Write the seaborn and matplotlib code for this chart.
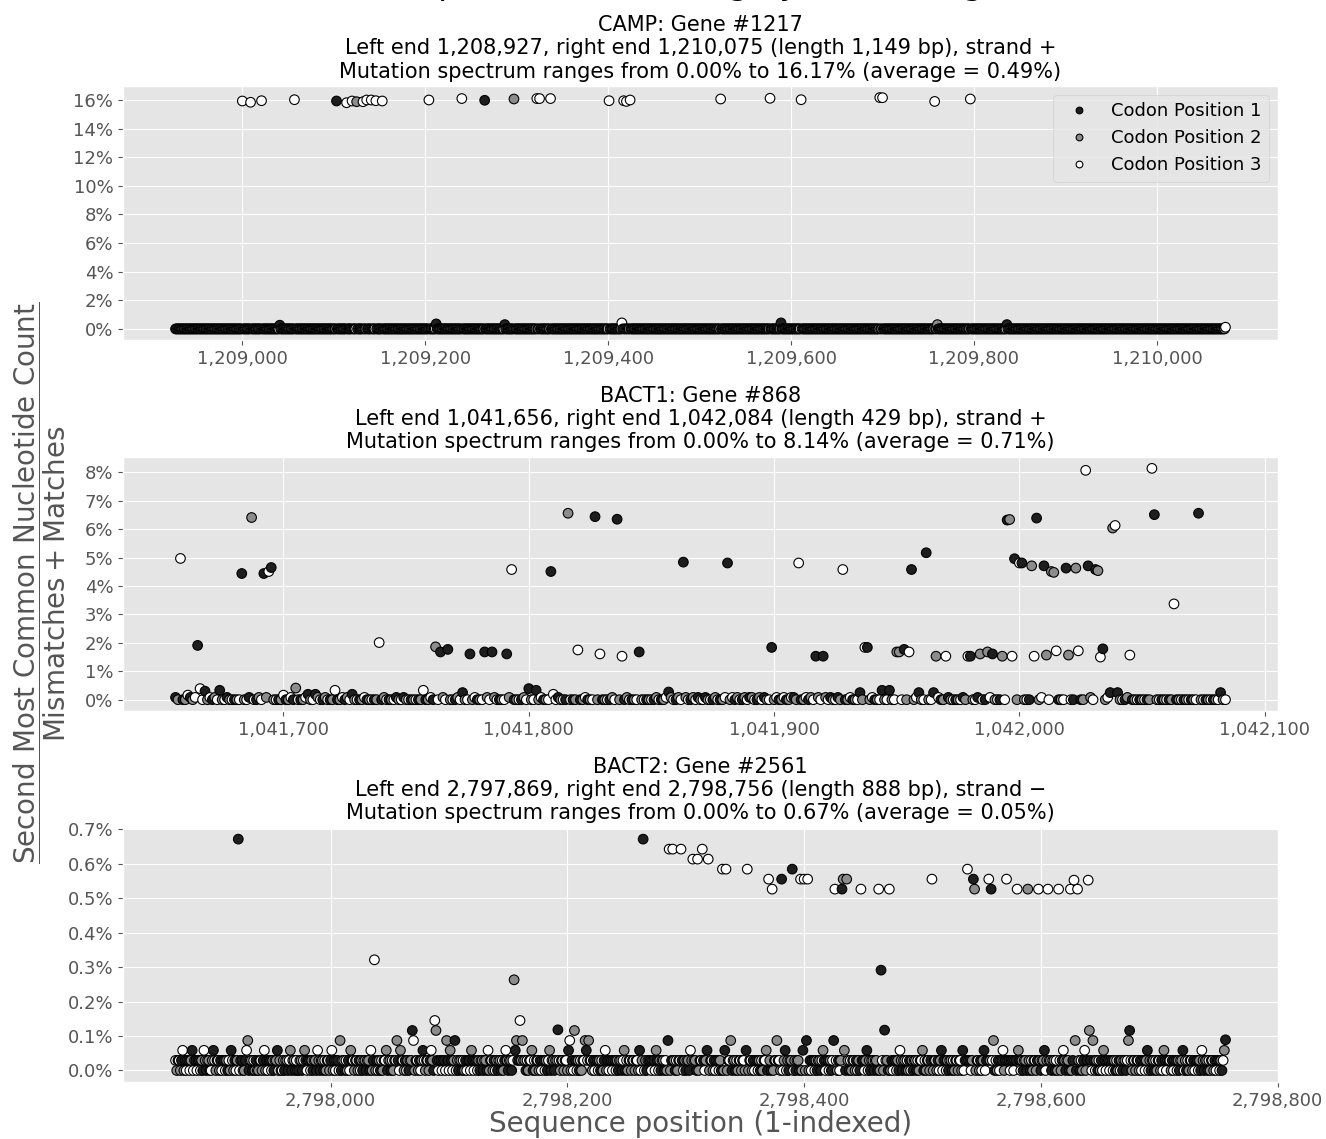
import numpy as np
import pandas as pd
import matplotlib
matplotlib.use("Agg")
import matplotlib.pyplot as plt
import seaborn as sns
from matplotlib.ticker import MultipleLocator, FuncFormatter, PercentFormatter

plt.style.use("ggplot")
plt.rcParams["font.family"] = ["DejaVu Sans"]
plt.rcParams["mathtext.fontset"] = "dejavusans"
plt.rcParams["mathtext.default"] = "regular"

# ------------------- gene info -------------------
gene_names = ["CAMP", "BACT1", "BACT2"]
gene_ids = [1217, 868, 2561]
gene_left = [1208927, 1041656, 2797869]
gene_right = [1210075, 1042084, 2798756]
gene_strand = ["+", "+", "\u2212"]
spec_max = ["16.17%", "8.14%", "0.67%"]
spec_avg = ["0.49%", "0.71%", "0.05%"]
codon_labels = ["Codon Position 1", "Codon Position 2", "Codon Position 3"]

# ------------------- CAMP (non-zero positions, %) -------------------
camp_pos = [1209000, 1209009, 1209021, 1209041, 1209057, 1209103, 1209114, 1209120,
            1209125, 1209132, 1209136, 1209141, 1209146, 1209153, 1209204, 1209212,
            1209240, 1209265, 1209287, 1209297, 1209322, 1209325, 1209337, 1209401,
            1209415, 1209417, 1209420, 1209424, 1209523, 1209577, 1209589, 1209611,
            1209697, 1209700, 1209757, 1209760, 1209796, 1209836, 1210075]
camp_val = [15.93, 15.84, 15.95, 0.26, 16.02, 15.93, 15.81, 15.93,
            15.88, 15.88, 16.00, 16.00, 15.95, 15.93, 16.00, 0.35,
            16.10, 15.98, 0.30, 16.07, 16.10, 16.10, 16.10, 15.95,
            0.42, 15.95, 15.90, 16.00, 16.07, 16.12, 0.42, 16.02,
            16.17, 16.16, 15.90, 0.30, 16.07, 0.30, 0.12]
camp_codon = [3, 3, 3, 1, 3, 1, 3, 3,
              2, 3, 3, 3, 3, 3, 3, 1,
              3, 1, 1, 2, 3, 3, 3, 3,
              3, 3, 3, 3, 3, 3, 1, 3,
              3, 3, 3, 2, 3, 1, 3]

# ------------------- BACT1 -------------------
# low-level values per position (digit x 0.08 %), from left end
bact1_low = ("1010021010" "0000101000" "0100000100" "1000100101" "0000200100"
             "0001000010" "0100000010" "1000000100" "0000010000" "1001000000"
             "0000100001" "0000010000" "0010000100" "1000001000" "0010000001"
             "0000101000" "1000000100" "0001000010" "0000100001" "0000001000"
             "1010010010" "0101001000" "1000100101" "0010110010" "1001010010"
             "0110100101" "0010010100" "1010010001" "0100100010" "0100100100"
             "0010001000" "0100010000" "0100000100" "0010000100" "0000100000"
             "0001000100" "0000100000" "0001000000" "1000000010" "0000000000"
             "0000000100" "0000000000" "000000000")
bact1_unit = 0.08
bact1_pos = [1041658, 1041665, 1041666, 1041668, 1041674, 1041683, 1041687, 1041692,
             1041694, 1041695, 1041705, 1041710, 1041713, 1041721, 1041728, 1041739,
             1041757, 1041762, 1041764, 1041767, 1041773, 1041776, 1041782, 1041785,
             1041791, 1041793, 1041800, 1041803, 1041809, 1041810, 1041816, 1041820,
             1041827, 1041829, 1041836, 1041838, 1041845, 1041857, 1041863, 1041881,
             1041899, 1041910, 1041917, 1041920, 1041928, 1041935, 1041937, 1041938,
             1041944, 1041947, 1041950, 1041951, 1041953, 1041955, 1041956, 1041959,
             1041962, 1041965, 1041966, 1041970, 1041979, 1041980, 1041984, 1041987,
             1041989, 1041993, 1041995, 1041996, 1041997, 1041998, 1042000, 1042001,
             1042005, 1042006, 1042007, 1042010, 1042011, 1042013, 1042014, 1042015,
             1042019, 1042020, 1042023, 1042024, 1042027, 1042028, 1042031, 1042032,
             1042033, 1042034, 1042037, 1042038, 1042039, 1042040, 1042045, 1042054,
             1042055, 1042063, 1042073, 1042082]
bact1_val = [4.97, 1.91, 0.39, 0.30, 0.33, 4.44, 6.41, 4.44,
             4.51, 4.65, 0.41, 0.19, 0.19, 0.33, 0.19, 2.01,
             0.33, 1.86, 1.68, 1.77, 0.25, 1.61, 1.68, 1.68,
             1.61, 4.58, 0.39, 0.33, 4.51, 0.19, 6.56, 1.75,
             6.44, 1.61, 6.35, 1.53, 1.68, 0.27, 4.84, 4.81,
             1.84, 4.81, 1.53, 1.53, 4.58, 0.25, 1.84, 1.84,
             0.33, 0.33, 1.68, 1.68, 1.77, 1.68, 4.58, 0.25,
             5.17, 0.25, 1.53, 1.53, 1.53, 1.53, 1.61, 1.68,
             1.61, 1.53, 6.32, 6.34, 1.53, 4.96, 4.81, 4.81,
             4.71, 1.53, 6.39, 4.71, 1.57, 4.51, 4.48, 1.72,
             4.63, 1.57, 4.63, 1.72, 8.07, 4.71, 4.58, 4.54,
             1.50, 1.79, 0.25, 6.04, 6.13, 0.25, 1.57, 8.14,
             6.51, 3.37, 6.56, 0.25]
bact1_codon = [3, 1, 3, 1, 1, 1, 2, 1,
               3, 1, 2, 1, 1, 3, 1, 3,
               3, 2, 1, 1, 1, 1, 1, 1,
               1, 3, 1, 1, 1, 3, 2, 3,
               1, 3, 1, 3, 1, 1, 1, 1,
               1, 3, 1, 1, 3, 1, 3, 1,
               1, 1, 2, 2, 1, 3, 1, 1,
               1, 1, 2, 3, 3, 1, 2, 2,
               1, 2, 1, 2, 3, 1, 3, 1,
               2, 3, 1, 1, 2, 2, 2, 3,
               1, 2, 2, 3, 3, 1, 1, 2,
               3, 1, 1, 2, 3, 1, 3, 3,
               1, 3, 1, 1]

# ------------------- BACT2 -------------------
# low-level values per position (digit x 0.0292 %), from left end
bact2_low = ("1011012010" "1101201101" "1010210110" "0121011010"
             "1101010210" "1011011001" "2101101010" "0110120101"
             "1010112010" "0101101201" "1010011012" "1011010110"
             "2101101011" "0120101101" "0110101021" "1011010101"
             "1011020110" "1010101120" "1101011010" "2110101011"
             "0101101012" "1011012101" "0101101101" "1021011010"
             "1101010110" "2101101011" "0110201101" "0101101012"
             "1011010201" "1010110101" "1201011010" "1101012011"
             "0110101101" "1021010110" "1010110210" "1101011010"
             "1012010110" "1101011012" "0101101101" "1020110101"
             "1101102101" "0110101101" "2101011010" "1011021011"
             "0101101012" "1011010110" "1010210110" "0110101101"
             "1021011010" "1101010112" "0110101101" "1010120101"
             "1101011010" "2101101011" "0101101210" "1101010110"
             "1010120110" "1011010101" "1101201011" "0110101102"
             "1101010110" "1021011010" "1010110101" "1201011010"
             "0110101201" "1010110101" "1011020110" "1101010110"
             "1012011010" "1101010112" "0101101101" "1021010110"
             "1101011010" "1011201011" "0110101101" "2101101010"
             "1011010120" "1101011010" "1010210110" "1101010101"
             "0110102101" "1011010110" "1201011010" "1101021011"
             "1010110101" "1201010110" "1011010210" "1101011010"
             "11010121")
bact2_unit = 0.0292
bact2_pos = [2797922, 2797930, 2798008, 2798037, 2798056, 2798069, 2798070, 2798088,
             2798089, 2798098, 2798105, 2798155, 2798157, 2798160, 2798162, 2798192,
             2798202, 2798206, 2798215, 2798218, 2798264, 2798285, 2798286, 2798289,
             2798296, 2798306, 2798310, 2798314, 2798319, 2798331, 2798334, 2798338,
             2798352, 2798370, 2798373, 2798377, 2798381, 2798390, 2798397, 2798400,
             2798402, 2798403, 2798425, 2798426, 2798432, 2798433, 2798436, 2798448,
             2798463, 2798465, 2798468, 2798472, 2798508, 2798538, 2798543, 2798544,
             2798556, 2798558, 2798560, 2798571, 2798580, 2798589, 2798598, 2798606,
             2798615, 2798625, 2798628, 2798629, 2798631, 2798640, 2798641, 2798644,
             2798674, 2798675, 2798756]
bact2_val = [0.671, 0.087, 0.087, 0.321, 0.087, 0.116, 0.087, 0.145,
             0.116, 0.087, 0.087, 0.263, 0.087, 0.145, 0.087, 0.118,
             0.087, 0.116, 0.087, 0.087, 0.671, 0.087, 0.642, 0.642,
             0.642, 0.613, 0.613, 0.642, 0.613, 0.584, 0.584, 0.087,
             0.584, 0.555, 0.526, 0.087, 0.555, 0.584, 0.555, 0.555,
             0.087, 0.555, 0.087, 0.526, 0.526, 0.555, 0.555, 0.526,
             0.526, 0.291, 0.117, 0.526, 0.555, 0.584, 0.555, 0.526,
             0.555, 0.526, 0.087, 0.555, 0.526, 0.526, 0.526, 0.526,
             0.526, 0.526, 0.552, 0.087, 0.526, 0.552, 0.116, 0.087,
             0.087, 0.116, 0.089]
bact2_codon = [1, 2, 2, 3, 2, 1, 3, 3,
               2, 2, 1, 2, 2, 3, 2, 1,
               3, 2, 2, 2, 1, 1, 3, 3,
               3, 3, 3, 3, 3, 3, 3, 2,
               3, 3, 3, 2, 1, 1, 3, 3,
               1, 3, 1, 3, 1, 2, 2, 3,
               3, 1, 1, 3, 3, 3, 1, 2,
               3, 1, 2, 3, 3, 2, 3, 3,
               3, 3, 3, 2, 3, 3, 2, 2,
               2, 1, 1]

gene_points = [(camp_pos, camp_val, camp_codon, None, 0.0),
               (bact1_pos, bact1_val, bact1_codon, bact1_low, bact1_unit),
               (bact2_pos, bact2_val, bact2_codon, bact2_low, bact2_unit)]


def build_gene_frame(left, right, strand, pos, val, codon, low, unit):
    positions = np.arange(left, right + 1)
    if strand == "+":
        cpos = (positions - left) % 3 + 1
    else:
        cpos = (right - positions) % 3 + 1
    values = np.zeros(len(positions))
    if low is not None:
        values = np.array([int(c) for c in low]) * unit
    idx = np.array(pos) - left
    values[idx] = val
    cpos[idx] = codon
    return pd.DataFrame({"position": positions, "spectrum": values,
                         "codon": [codon_labels[c - 1] for c in cpos]})


palette = {"Codon Position 1": "#1e1e1e", "Codon Position 2": "#8c8c8c",
           "Codon Position 3": "white"}
x_steps = [200, 100, 200]
y_steps = [2, 1, 0.1]
y_decimals = [0, 0, 1]

fig, axes = plt.subplots(3, 1, figsize=(13.26, 11.39), dpi=100)
fig.subplots_adjust(left=0.0928, right=0.9638, top=0.9245, bottom=0.050, hspace=0.457)

for i, ax in enumerate(axes):
    pos, val, codon, low, unit = gene_points[i]
    df = build_gene_frame(gene_left[i], gene_right[i], gene_strand[i], pos, val, codon, low, unit)
    sns.scatterplot(data=df, x="position", y="spectrum", hue="codon", hue_order=codon_labels,
                    palette=palette, edgecolor="black", linewidth=0.8, s=48,
                    ax=ax, legend=(i == 0), zorder=3)
    length = gene_right[i] - gene_left[i] + 1
    ax.set_title(f"{gene_names[i]}: Gene #{gene_ids[i]}\n"
                 f"Left end {gene_left[i]:,}, right end {gene_right[i]:,} "
                 f"(length {length:,} bp), strand {gene_strand[i]}\n"
                 f"Mutation spectrum ranges from 0.00% to {spec_max[i]} (average = {spec_avg[i]})",
                 fontsize=15, color="black")
    ax.xaxis.set_major_locator(MultipleLocator(x_steps[i]))
    ax.xaxis.set_major_formatter(FuncFormatter(lambda x, p: f"{x:,.0f}"))
    ax.yaxis.set_major_locator(MultipleLocator(y_steps[i]))
    ax.yaxis.set_major_formatter(PercentFormatter(decimals=y_decimals[i]))
    ax.tick_params(labelsize=13)
    ax.set_xlabel("")
    ax.set_ylabel("")

sns.move_legend(axes[0], "upper right", title=None, fontsize=13, markerscale=0.7)

axes[2].set_xlabel("Sequence position (1-indexed)", fontsize=20, color="#555555", labelpad=0)
fig.text(0.030, 0.488,
         r"$\dfrac{Second\ Most\ Common\ Nucleotide\ Count}{Mismatches + Matches}$",
         rotation=90, ha="center", va="center", fontsize=20, color="#555555")
fig.text(0.5, 1.0052, "Mutation spectrum of the highly mutated genes",
         ha="center", va="baseline", fontsize=24)

fig.savefig("out.png", dpi=100)
